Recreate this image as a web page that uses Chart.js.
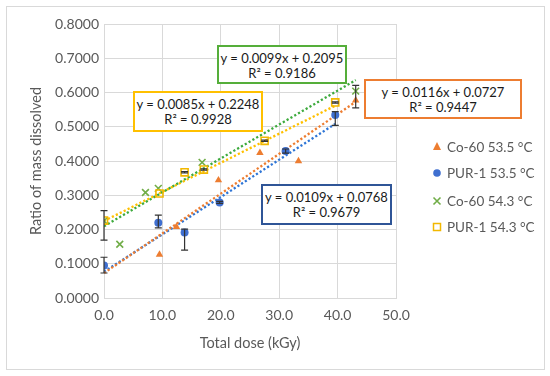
<!DOCTYPE html>
<html>
<head>
<meta charset="utf-8">
<script src="https://cdn.jsdelivr.net/npm/chart.js@4.4.1/dist/chart.umd.min.js"></script>
<style>
    body { margin: 0; background: #fff; font-family: Lato, "Open Sans", sans-serif; }
    #wrap { position: relative; width: 550px; height: 376px; }
    #frame { position: absolute; left: 6px; top: 6px; width: 537px; height: 362px; border: 1px solid #d9d9d9; }
    #myChart { position: absolute; left: 0; top: 0; }
    .eq { position: absolute; background: #fff; border: 2px solid; box-sizing: border-box;
          font-size: 13px; line-height: 14.5px; text-align: center; color: #1a1a1a; padding-top: 4px; }
    .leg { position: absolute; left: 430px; height: 16px; font-size: 13.5px; line-height: 16px; color: #595959; white-space: nowrap; }
    .leg svg { position: absolute; left: 0; top: 0; }
    .leg span { position: absolute; left: 17px; top: 0; }
</style>
</head>
<body>
<div id="wrap">
    <div id="frame"></div>
    <canvas id="myChart" width="550" height="376"></canvas>
    <div id="overlay"></div>
</div>
<script>
// series names
const seriesNames = ["Co-60 53.5 °C", "PUR-1 53.5 °C", "Co-60 54.3 °C", "PUR-1 54.3 °C"];

// Co-60 53.5 (orange triangles)
const co60a_x = [9.5, 12.4, 19.6, 26.7, 33.3, 43.1];
const co60a_y = [0.127, 0.208, 0.344, 0.424, 0.400, 0.577];
const co60a_errPlus = [0, 0, 0, 0, 0, 0.044];
const co60a_errMinus = [0, 0, 0, 0, 0, 0.022];

// PUR-1 53.5 (blue circles)
const pur1a_x = [0, 9.3, 13.8, 19.8, 31.1, 39.6];
const pur1a_y = [0.095, 0.220, 0.191, 0.279, 0.429, 0.534];
const pur1a_errPlus = [0.024, 0.022, 0.010, 0.003, 0.006, 0.010];
const pur1a_errMinus = [0.022, 0.015, 0.051, 0.003, 0.006, 0.030];

// Co-60 54.3 (green crosses)
const co60b_x = [0, 2.7, 7.1, 9.3, 16.8, 43.1];
const co60b_y = [0.225, 0.157, 0.308, 0.320, 0.396, 0.604];

// PUR-1 54.3 (yellow squares)
const pur1b_x = [0, 9.5, 13.8, 17.1, 27.5, 39.6];
const pur1b_y = [0.226, 0.305, 0.367, 0.375, 0.459, 0.571];
const pur1b_errPlus = [0.029, 0, 0.002, 0.002, 0.002, 0.002];
const pur1b_errMinus = [0.057, 0, 0.002, 0.002, 0.002, 0.002];

// trendlines (same order as seriesNames)
const trendSlope = [0.0116, 0.0109, 0.0099, 0.0085];
const trendIntercept = [0.0727, 0.0768, 0.2095, 0.2248];
const trendR2 = [0.9447, 0.9679, 0.9186, 0.9928];
const trendEnd = [43.1, 39.6, 43.1, 39.6];

// axis ranges
const xMin = 0, xMax = 50, xStep = 10;
const yMin = 0, yMax = 0.8, yStep = 0.1;

const markColors = ["#ED7D31", "#3F6FD0", "#70AD47", "#F2B800"];
const lineColors = ["#ED7D31", "#2E75D6", "#3DAA3D", "#FFC000"];
const boxColors = ["#ED7D31", "#2F5597", "#55AE3A", "#FFC000"];
const textGray = "#595959";
const gridGray = "#D9D9D9";

function toPoints(xs, ys) {
    return xs.map((x, i) => ({ x: x, y: ys[i] }));
}

function trendPoints(i) {
    return [
        { x: 0, y: trendIntercept[i] },
        { x: trendEnd[i], y: trendSlope[i] * trendEnd[i] + trendIntercept[i] },
    ];
}

const markerSets = [
    { data: toPoints(co60a_x, co60a_y), style: "triangle", radius: 4.3, fill: true, errPlus: co60a_errPlus, errMinus: co60a_errMinus },
    { data: toPoints(pur1a_x, pur1a_y), style: "circle", radius: 4, fill: true, errPlus: pur1a_errPlus, errMinus: pur1a_errMinus },
    { data: toPoints(co60b_x, co60b_y), style: "crossRot", radius: 4.8, fill: false },
    { data: toPoints(pur1b_x, pur1b_y), style: "rect", radius: 5, fill: false, errPlus: pur1b_errPlus, errMinus: pur1b_errMinus },
];

const datasets = [];
markerSets.forEach(function (s, i) {
    datasets.push({
        label: seriesNames[i],
        data: s.data,
        showLine: false,
        pointStyle: s.style,
        pointRadius: s.radius,
        pointBorderWidth: s.fill ? 0 : 1.6,
        pointBackgroundColor: s.fill ? markColors[i] : "rgba(0,0,0,0)",
        pointBorderColor: markColors[i],
        errPlus: s.errPlus,
        errMinus: s.errMinus,
        order: 4 - i,
    });
});
[0, 1, 2, 3].forEach(function (i) {
    datasets.push({
        label: "trend " + i,
        data: trendPoints(i),
        showLine: true,
        pointRadius: 0,
        borderColor: lineColors[i],
        borderWidth: 2.3,
        borderDash: [2.2, 2.2],
        order: 10 + i,
    });
});

// error bars
const errorBars = {
    id: "errorBars",
    afterDatasetsDraw(chart) {
        const ctx = chart.ctx;
        const yScale = chart.scales.y;
        ctx.save();
        ctx.strokeStyle = "#333333";
        ctx.lineWidth = 1.2;
        chart.data.datasets.forEach(function (ds, di) {
            if (!ds.errPlus) return;
            const meta = chart.getDatasetMeta(di);
            meta.data.forEach(function (pt, i) {
                const plus = ds.errPlus[i], minus = ds.errMinus[i];
                if (!plus && !minus) return;
                const v = ds.data[i].y;
                const top = yScale.getPixelForValue(v + plus);
                const bot = yScale.getPixelForValue(v - minus);
                ctx.beginPath();
                ctx.moveTo(pt.x, top); ctx.lineTo(pt.x, bot);
                ctx.moveTo(pt.x - 3.5, top); ctx.lineTo(pt.x + 3.5, top);
                ctx.moveTo(pt.x - 3.5, bot); ctx.lineTo(pt.x + 3.5, bot);
                ctx.stroke();
            });
        });
        ctx.restore();
    },
};

const tickFont = { family: "Lato", size: 14 };

new Chart(document.getElementById("myChart").getContext("2d"), {
    type: "scatter",
    data: { datasets: datasets },
    options: {
        responsive: false,
        animation: false,
        devicePixelRatio: 1,
        layout: { padding: { left: 28, right: 154, top: 24, bottom: 20 } },
        plugins: { legend: { display: false }, tooltip: { enabled: false } },
        scales: {
            x: {
                type: "linear", min: xMin, max: xMax,
                ticks: { stepSize: xStep, padding: 9, color: textGray, font: tickFont, callback: (v) => v.toFixed(1) },
                grid: { color: gridGray, drawTicks: false },
                border: { color: gridGray },
                title: { display: true, text: "Total dose (kGy)", color: textGray, font: { family: "Lato", size: 14.5 }, padding: { top: 0, bottom: 4 } },
                afterFit: (s) => { s.height = 58; },
            },
            y: {
                min: yMin, max: yMax,
                ticks: { stepSize: yStep, padding: 5, color: textGray, font: tickFont, callback: (v) => v.toFixed(4) },
                grid: { color: gridGray, drawTicks: false },
                border: { color: gridGray },
                title: { display: true, text: "Ratio of mass dissolved", color: textGray, font: { family: "Lato", size: 14.5 }, padding: 0 },
                afterFit: (s) => { s.width = 76; },
            },
        },
    },
    plugins: [errorBars],
});

// equation boxes
const eqBoxes = [
    { left: 364, top: 79, width: 158, height: 40 },
    { left: 261, top: 184, width: 131, height: 41 },
    { left: 217, top: 45, width: 130, height: 39 },
    { left: 133, top: 91, width: 130, height: 41 },
];
const overlay = document.getElementById("overlay");
eqBoxes.forEach(function (b, i) {
    const el = document.createElement("div");
    el.className = "eq";
    el.style.left = b.left + "px";
    el.style.top = b.top + "px";
    el.style.width = b.width + "px";
    el.style.height = b.height + "px";
    el.style.borderColor = boxColors[i];
    el.innerHTML = `y = ${trendSlope[i].toFixed(4)}x + ${trendIntercept[i].toFixed(4)}<br>R² = ${trendR2[i].toFixed(4)}`;
    overlay.appendChild(el);
});

// legend
const legendIcons = [
    (c) => `<polygon points="7,3 11,11 3,11" fill="${c}"/>`,
    (c) => `<circle cx="7" cy="8" r="3.8" fill="${c}"/>`,
    (c) => `<path d="M3.5 4.5 L10.5 11.5 M10.5 4.5 L3.5 11.5" stroke="${c}" stroke-width="1.6"/>`,
    (c) => `<rect x="3.5" y="4.5" width="7" height="7" fill="none" stroke="${c}" stroke-width="1.5"/>`,
];
const legendTop = [139, 165, 193, 219];
seriesNames.forEach(function (name, i) {
    const row = document.createElement("div");
    row.className = "leg";
    row.style.top = legendTop[i] + "px";
    row.innerHTML = `<svg width="14" height="16">${legendIcons[i](markColors[i])}</svg><span>${name}</span>`;
    overlay.appendChild(row);
});
</script>
</body>
</html>
